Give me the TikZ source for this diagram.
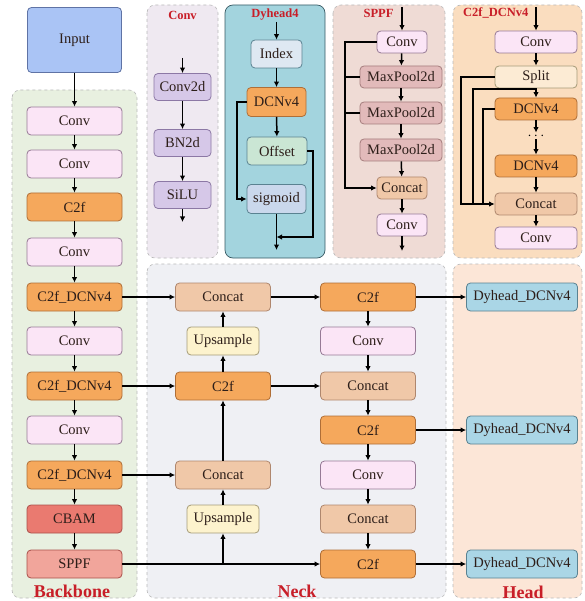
\documentclass[tikz,border=0pt]{standalone}
\usepackage{fontspec}
\setmainfont{Liberation Serif}
\usepackage{xcolor}
\definecolor{titlered}{RGB}{200,30,40}
\definecolor{textdark}{RGB}{45,30,25}
\definecolor{inputblue}{RGB}{170,196,245}
\definecolor{inputedge}{RGB}{95,115,165}
\definecolor{convpink}{RGB}{251,229,246}
\definecolor{convedge}{RGB}{150,122,150}
\definecolor{c2forange}{RGB}{245,168,92}
\definecolor{c2fedge}{RGB}{175,110,55}
\definecolor{cbamred}{RGB}{234,122,112}
\definecolor{cbamedge}{RGB}{170,80,75}
\definecolor{sppfred}{RGB}{241,165,155}
\definecolor{concatpeach}{RGB}{240,200,168}
\definecolor{concatedge}{RGB}{175,135,110}
\definecolor{upcream}{RGB}{253,243,205}
\definecolor{upedge}{RGB}{165,155,120}
\definecolor{dyblue}{RGB}{170,214,230}
\definecolor{dyedge}{RGB}{90,130,145}
\definecolor{poolrose}{RGB}{226,186,186}
\definecolor{pooledge}{RGB}{165,125,125}
\definecolor{splitcream}{RGB}{252,235,212}
\definecolor{bnpurple}{RGB}{214,200,232}
\definecolor{bnedge}{RGB}{140,120,165}
\definecolor{indexgray}{RGB}{222,232,242}
\definecolor{offsetgreen}{RGB}{202,230,212}
\definecolor{sigblue}{RGB}{202,216,236}
\definecolor{bbgreen}{RGB}{232,240,224}
\definecolor{neckgray}{RGB}{239,240,244}
\definecolor{headpeach}{RGB}{252,230,215}
\definecolor{convpanel}{RGB}{239,233,241}
\definecolor{dhpanel}{RGB}{163,212,222}
\definecolor{dhedge}{RGB}{55,90,100}
\definecolor{sppanel}{RGB}{239,219,213}
\definecolor{cdpanel}{RGB}{250,221,191}
\usetikzlibrary{arrows.meta}
\newcommand{\boxfont}{\fontsize{14.5}{16}\selectfont}
\newcommand{\widthblock}{95pt}
\newcommand{\heightblock}{28pt}
\newcommand{\heightsmall}{22pt}
\tikzset{
    common/.style={draw, rounded corners=4pt, line width=0.8pt, font=\boxfont, text=textdark, inner sep=1pt},
    block/.style={common, minimum width=\widthblock, minimum height=\heightblock},
    small/.style={common, minimum height=\heightsmall},
    convbox/.style={fill=convpink, draw=convedge},
    c2fbox/.style={fill=c2forange, draw=c2fedge},
    concatbox/.style={fill=concatpeach, draw=concatedge},
    upbox/.style={fill=upcream, draw=upedge},
    dybox/.style={fill=dyblue, draw=dyedge},
    poolbox/.style={fill=poolrose, draw=pooledge},
    bnbox/.style={fill=bnpurple, draw=bnedge},
    flow/.style={line width=1.5pt, -{Latex[length=5.5pt,width=5.5pt]}},
    link/.style={line width=1.5pt},
    panel/.style={draw=gray!55, dashed, rounded corners=8pt, line width=0.6pt},
    title/.style={text=titlered, font=\bfseries\fontsize{12.5}{14}\selectfont},
    label/.style={text=titlered, font=\bfseries\fontsize{18}{20}\selectfont}
}

\begin{document}
\begin{tikzpicture}[x=1pt, y=-1pt]
    \useasboundingbox (0,0) rectangle (584,601);

    % panels
    \draw[panel, fill=bbgreen] (12,90) rectangle (137,598);
    \draw[panel, fill=neckgray] (147,264) rectangle (446,598);
    \draw[panel, fill=headpeach] (453,264) rectangle (582,598);
    \draw[panel, fill=convpanel] (147,5) rectangle (218,258);
    \draw[rounded corners=8pt, line width=0.7pt, draw=dhedge, fill=dhpanel] (225,5) rectangle (325,258);
    \draw[panel, fill=sppanel] (333,5) rectangle (445,258);
    \draw[panel, fill=cdpanel] (453,5) rectangle (582,258);

    \node[label] (LBackbone) at (72,591) {Backbone};
    \node[label] (LNeck) at (297,591) {Neck};
    \node[label] (LHead) at (523,592) {Head};

    % backbone
    \node[common, fill=inputblue, draw=inputedge, minimum width=94pt, minimum height=65pt] (Input) at (74.5,40) {Input};
    \node[block, convbox] (BConvA) at (74.5,121) {Conv};
    \node[block, convbox] (BConvB) at (74.5,164) {Conv};
    \node[block, c2fbox] (BC2f) at (74.5,207) {C2f};
    \node[block, convbox] (BConvC) at (74.5,252) {Conv};
    \node[block, c2fbox] (BDcnA) at (74.5,297) {C2f\_DCNv4};
    \node[block, convbox] (BConvD) at (74.5,341) {Conv};
    \node[block, c2fbox] (BDcnB) at (74.5,386) {C2f\_DCNv4};
    \node[block, convbox] (BConvE) at (74.5,430) {Conv};
    \node[block, c2fbox] (BDcnC) at (74.5,475) {C2f\_DCNv4};
    \node[block, fill=cbamred, draw=cbamedge] (BCbam) at (74.5,519) {CBAM};
    \node[block, fill=sppfred, draw=cbamedge] (BSppf) at (74.5,564) {SPPF};

    \foreach \a/\b in {Input/BConvA, BConvA/BConvB, BConvB/BC2f, BC2f/BConvC, BConvC/BDcnA,
        BDcnA/BConvD, BConvD/BDcnB, BDcnB/BConvE, BConvE/BDcnC, BDcnC/BCbam, BCbam/BSppf}
        \draw[flow] (\a) -- (\b);

    % neck
    \node[block, concatbox] (NCatA) at (223,297) {Concat};
    \node[block, upbox, minimum width=72pt] (NUpA) at (223,341) {Upsample};
    \node[block, c2fbox] (NC2fA) at (223,386) {C2f};
    \node[block, concatbox] (NCatB) at (223,475) {Concat};
    \node[block, upbox, minimum width=72pt] (NUpB) at (223,519) {Upsample};
    \node[block, c2fbox] (NC2fB) at (368,297) {C2f};
    \node[block, convbox] (NConvA) at (368,341) {Conv};
    \node[block, concatbox] (NCatC) at (368,386) {Concat};
    \node[block, c2fbox] (NC2fC) at (368,430) {C2f};
    \node[block, convbox] (NConvB) at (368,475) {Conv};
    \node[block, concatbox] (NCatD) at (368,519) {Concat};
    \node[block, c2fbox] (NC2fD) at (368,564) {C2f};

    % head
    \node[block, dybox, minimum width=111pt] (HDyA) at (522,297) {Dyhead\_DCNv4};
    \node[block, dybox, minimum width=111pt] (HDyB) at (522,430) {Dyhead\_DCNv4};
    \node[block, dybox, minimum width=111pt] (HDyC) at (522,564) {Dyhead\_DCNv4};

    \foreach \a/\b in {NC2fB/NConvA, NConvA/NCatC, NCatC/NC2fC, NC2fC/NConvB, NConvB/NCatD, NCatD/NC2fD}
        \draw[flow] (\a) -- (\b);
    \draw[flow] (BDcnA) -- (NCatA);
    \draw[flow] (NCatA) -- (NC2fB);
    \draw[flow] (NC2fB) -- (HDyA);
    \draw[flow] (BDcnB) -- (NC2fA);
    \draw[flow] (NC2fA) -- (NCatC);
    \draw[flow] (NC2fA) -- (NUpA);
    \draw[flow] (NUpA) -- (NCatA);
    \draw[flow] (BDcnC) -- (NCatB);
    \draw[flow] (NCatB) -- (NC2fA);
    \draw[flow] (NUpB) -- (NCatB);
    \draw[flow] (BSppf) -- (NC2fD);
    \coordinate (NTap) at (NUpB |- BSppf);
    \draw[flow] (NTap) -- (NUpB);
    \draw[flow] (NC2fC) -- (HDyB);
    \draw[flow] (NC2fD) -- (HDyC);

    % Conv panel
    \node[title] (TConv) at (182.5,15) {Conv};
    \node[common, bnbox, minimum width=57pt, minimum height=27pt] (CvConv) at (182.5,87) {Conv2d};
    \node[common, bnbox, minimum width=57pt, minimum height=27pt] (CvBn) at (182.5,143) {BN2d};
    \node[common, bnbox, minimum width=57pt, minimum height=27pt] (CvSilu) at (182.5,195) {SiLU};
    \coordinate (CvIn) at (182.5,58);
    \coordinate (CvOut) at (182.5,222);
    \draw[flow] (CvIn) -- (CvConv);
    \draw[flow] (CvConv) -- (CvBn);
    \draw[flow] (CvBn) -- (CvSilu);
    \draw[flow] (CvSilu) -- (CvOut);

    % Dyhead4 panel
    \node[title] (TDyhead) at (275,15) {Dyhead4};
    \node[common, fill=indexgray, draw=dyedge, minimum width=51pt, minimum height=28pt] (DhIndex) at (276.5,54) {Index};
    \node[common, c2fbox, minimum width=59pt, minimum height=29pt] (DhDcn) at (276.5,102) {DCNv4};
    \node[common, fill=offsetgreen, draw=dyedge, minimum width=60pt, minimum height=28pt] (DhOffset) at (277,151) {Offset};
    \node[common, fill=sigblue, draw=dyedge, minimum width=59pt, minimum height=29pt] (DhSig) at (276.5,199) {sigmoid};
    \coordinate (DhIn) at (276.5,22);
    \coordinate (DhOut) at (276.5,250);
    \coordinate (DhLeft) at (237,102);
    \coordinate (DhRight) at (313,151);
    \coordinate (DhJoin) at (276.5,237);
    \draw[flow] (DhIn) -- (DhIndex);
    \draw[flow] (DhIndex) -- (DhDcn);
    \draw[flow] (DhDcn) -- (DhOffset);
    \draw[flow] (DhDcn.west) -- (DhLeft) |- (DhSig.west);
    \draw[flow] (DhSig) -- (DhOut);
    \draw[flow] (DhOffset.east) -- (DhRight) |- (DhJoin);

    % SPPF panel
    \node[title, anchor=east] (TSppf) at (397,13) {SPPF};
    \node[small, convbox, minimum width=50pt] (SpConv) at (402,42) {Conv};
    \node[small, poolbox, minimum width=82pt] (SpPoolA) at (401,77) {MaxPool2d};
    \node[small, poolbox, minimum width=82pt] (SpPoolB) at (401,113) {MaxPool2d};
    \node[small, poolbox, minimum width=82pt] (SpPoolC) at (401,150) {MaxPool2d};
    \node[small, concatbox, minimum width=50pt] (SpCat) at (402,188) {Concat};
    \node[small, convbox, minimum width=50pt] (SpConvB) at (402,225) {Conv};
    \coordinate (SpIn) at (402,7);
    \coordinate (SpOut) at (402,251);
    \coordinate (SpLeft) at (345,42);
    \draw[flow] (SpIn) -- (SpConv);
    \draw[flow] (SpConv) -- (SpPoolA);
    \draw[flow] (SpPoolA) -- (SpPoolB);
    \draw[flow] (SpPoolB) -- (SpPoolC);
    \draw[flow] (SpPoolC) -- (SpCat);
    \draw[flow] (SpCat) -- (SpConvB);
    \draw[flow] (SpConvB) -- (SpOut);
    \draw[flow] (SpConv.west) -- (SpLeft) |- (SpCat.west);
    \draw[link] (SpPoolA.west) -- (SpPoolA.west -| SpLeft);
    \draw[link] (SpPoolB.west) -- (SpPoolB.west -| SpLeft);

    % C2f_DCNv4 panel
    \node[title, anchor=east] (TC2f) at (532,13) {C2f\_DCNv4};
    \node[small, convbox, minimum width=82pt] (CdConv) at (536,42) {Conv};
    \node[small, fill=splitcream, draw=upedge, minimum width=82pt] (CdSplit) at (536,77) {Split};
    \node[small, c2fbox, minimum width=82pt] (CdDcnA) at (536,109) {DCNv4};
    \node[font=\boxfont, inner sep=0pt] (CdDots) at (536,136) {$\cdots$};
    \node[small, c2fbox, minimum width=82pt] (CdDcnB) at (536,166) {DCNv4};
    \node[small, concatbox, minimum width=82pt] (CdCat) at (536,204) {Concat};
    \node[small, convbox, minimum width=82pt] (CdConvB) at (536,238) {Conv};
    \coordinate (CdIn) at (536,7);
    \coordinate (CdLeft) at (461,77);
    \coordinate (CdTap) at (536,89);
    \coordinate (CdMid) at (473,89);
    \coordinate (CdInner) at (483,109);
    \draw[flow] (CdIn) -- (CdConv);
    \draw[flow] (CdConv) -- (CdSplit);
    \draw[flow] (CdSplit) -- (CdDcnA);
    \draw[flow] (CdDcnA) -- (CdDots);
    \draw[flow] (CdDots) -- (CdDcnB);
    \draw[flow] (CdDcnB) -- (CdCat);
    \draw[flow] (CdCat) -- (CdConvB);
    \draw[flow] (CdSplit.west) -- (CdLeft) |- (CdCat.west);
    \draw[link] (CdTap) -- (CdMid) -- (CdMid |- CdCat);
    \draw[link] (CdDcnA.west) -- (CdInner) -- (CdInner |- CdCat);
\end{tikzpicture}
\end{document}
